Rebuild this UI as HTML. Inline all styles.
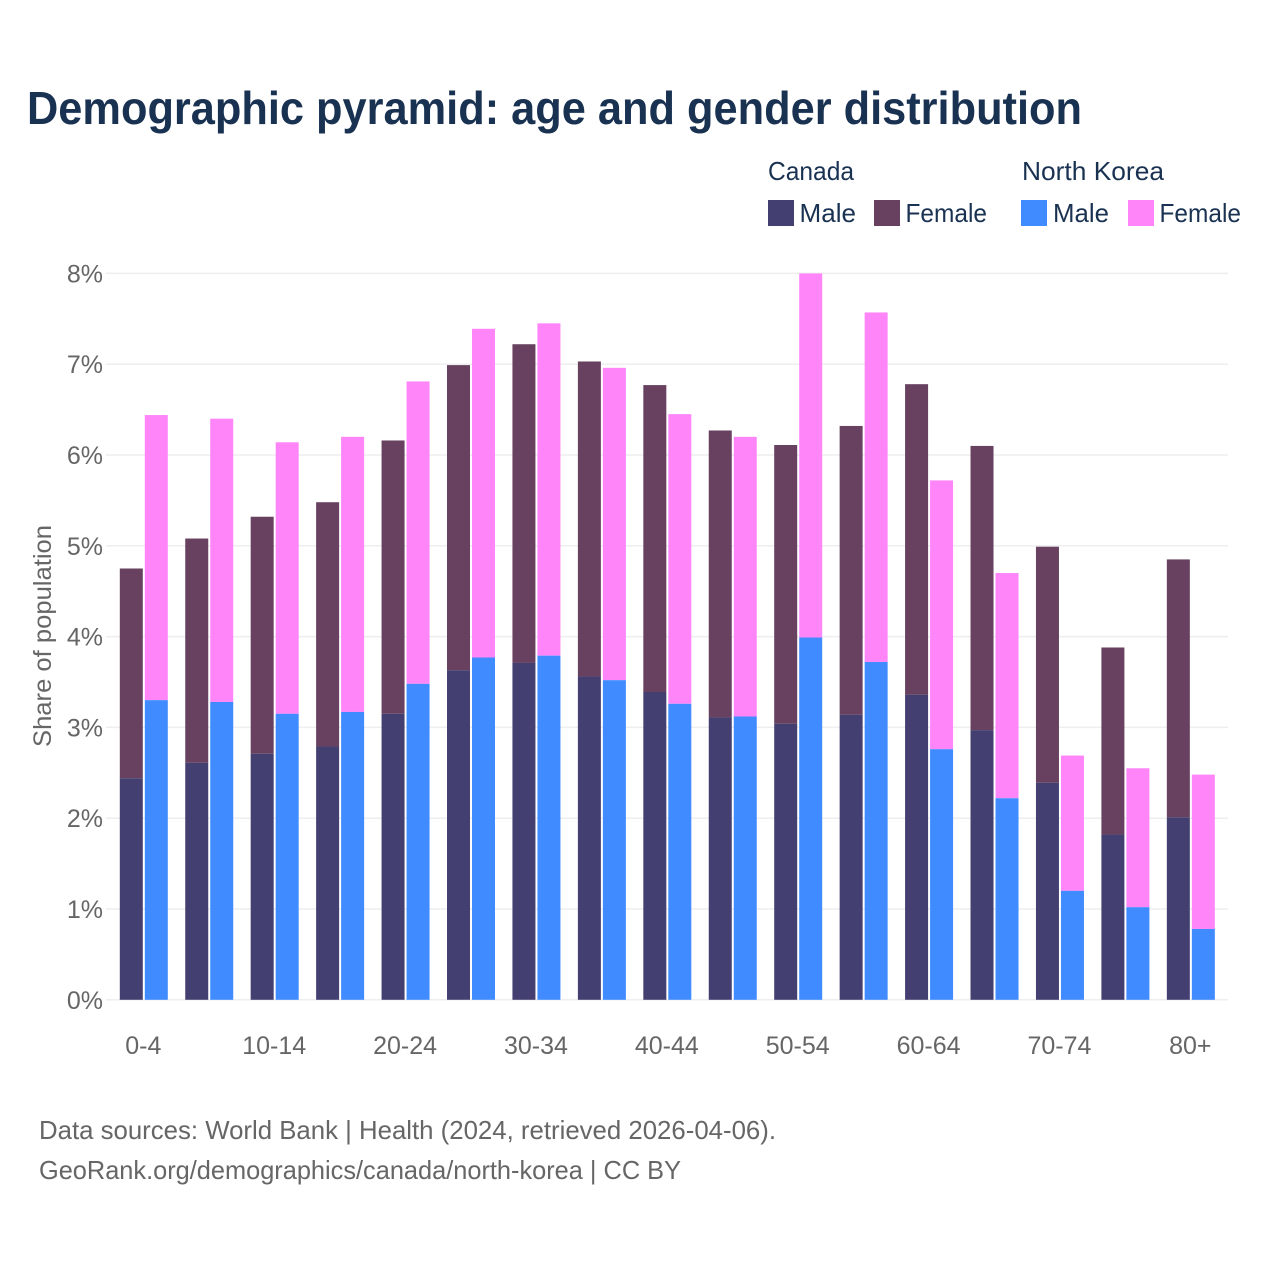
<!DOCTYPE html>
<html lang="en">
<head>
<meta charset="utf-8">
<title>Demographic pyramid</title>
<style>
html,body{margin:0;padding:0;background:#fff;}
svg{display:block;}
text{font-family:"Liberation Sans",sans-serif;}
</style>
</head>
<body>
<svg id="chart" width="1280" height="1280" viewBox="0 0 1280 1280" xmlns="http://www.w3.org/2000/svg">
  <rect width="1280" height="1280" fill="#ffffff"/>
  <text x="27" y="124" font-size="46" font-weight="700" fill="#1a3252" textLength="1055" lengthAdjust="spacingAndGlyphs">Demographic pyramid: age and gender distribution</text>

  <g font-size="26" fill="#1a3252">
    <text x="768" y="180" textLength="86" lengthAdjust="spacingAndGlyphs">Canada</text>
    <text x="1022" y="180" textLength="142" lengthAdjust="spacingAndGlyphs">North Korea</text>
    <rect x="768" y="200" width="26" height="26" fill="#443f71"/>
    <text x="799.5" y="222" textLength="56.5" lengthAdjust="spacingAndGlyphs">Male</text>
    <rect x="874" y="200" width="26" height="26" fill="#67415f"/>
    <text x="905.5" y="222" textLength="81.5" lengthAdjust="spacingAndGlyphs">Female</text>
    <rect x="1021" y="200" width="26" height="26" fill="#3f8bff"/>
    <text x="1053" y="222" textLength="56" lengthAdjust="spacingAndGlyphs">Male</text>
    <rect x="1128" y="200" width="26" height="26" fill="#ff85f9"/>
    <text x="1159.5" y="222" textLength="81.5" lengthAdjust="spacingAndGlyphs">Female</text>
  </g>

  <g id="grid"></g>
  <g id="y-axis"></g>
  <g id="bars"></g>
  <g id="x-axis"></g>

  <text transform="translate(51,636) rotate(-90)" text-anchor="middle" font-size="25" fill="#666666" textLength="222" lengthAdjust="spacingAndGlyphs">Share of population</text>

  <text x="39" y="1139" font-size="26" fill="#666666" textLength="737" lengthAdjust="spacingAndGlyphs">Data sources: World Bank | Health (2024, retrieved 2026-04-06).</text>
  <text x="39" y="1179" font-size="26" fill="#666666" textLength="642" lengthAdjust="spacingAndGlyphs">GeoRank.org/demographics/canada/north-korea | CC BY</text>
</svg>
<script>
const categories = ["0-4","5-9","10-14","15-19","20-24","25-29","30-34","35-39","40-44","45-49","50-54","55-59","60-64","65-69","70-74","75-79","80+"];
const xTickLabels = ["0-4","10-14","20-24","30-34","40-44","50-54","60-64","70-74","80+"];
const yTicks = [0,1,2,3,4,5,6,7,8];
const canadaMale = [2.44,2.61,2.71,2.79,3.15,3.63,3.71,3.56,3.39,3.11,3.04,3.14,3.36,2.97,2.39,1.82,2.01];
const canadaFemale = [2.31,2.47,2.61,2.69,3.01,3.36,3.51,3.47,3.38,3.16,3.07,3.18,3.42,3.13,2.60,2.06,2.84];
const northKoreaMale = [3.30,3.28,3.15,3.17,3.48,3.77,3.79,3.52,3.26,3.12,3.99,3.72,2.76,2.22,1.20,1.02,0.78];
const northKoreaFemale = [3.14,3.12,2.99,3.03,3.33,3.62,3.66,3.44,3.19,3.08,4.01,3.85,2.96,2.48,1.49,1.53,1.70];

const SVG_NS = "http://www.w3.org/2000/svg";
const yScale = v => 999.8 - v * 90.8;
const xBand = i => 119.8 + i * 65.44;
const BAR_W = 23;
const NK_OFFSET = 25;

function make(tag, attrs, parent) {
  const el = document.createElementNS(SVG_NS, tag);
  for (const k in attrs) el.setAttribute(k, attrs[k]);
  parent.appendChild(el);
  return el;
}

const grid = document.getElementById("grid");
const yAxis = document.getElementById("y-axis");
const xAxis = document.getElementById("x-axis");
const bars = document.getElementById("bars");

yTicks.forEach(t => {
  const line = make("line", {x1:106, x2:1228, y1:yScale(t), y2:yScale(t), stroke:"#eeeeee", "stroke-width":1.5}, grid);
  
  
  const label = make("text", {x:103, y:yScale(t)+9, "text-anchor":"end", "font-size":25, fill:"#666666"}, yAxis);
  
  
  label.textContent = t + "%";
});

function drawStack(i, x, male, female, maleColor, femaleColor, country) {
  const maleTop = yScale(male);
  const totalTop = yScale(male + female);
  const femaleRect = make("rect", {x:x, y:totalTop, width:BAR_W, height:maleTop-totalTop, fill:femaleColor}, bars);
  
  
  femaleRect.setAttribute('data-series', country + "-" + categories[i]);
  const maleRect = make("rect", {x:x, y:maleTop, width:BAR_W, height:yScale(0)-maleTop, fill:maleColor}, bars);
  
  
  maleRect.setAttribute('data-series', country + "-" + categories[i]);
}

categories.forEach((c, i) => {
  drawStack(i, xBand(i), canadaMale[i], canadaFemale[i], "#443f71", "#67415f", "canada");
  drawStack(i, xBand(i)+NK_OFFSET, northKoreaMale[i], northKoreaFemale[i], "#3f8bff", "#ff85f9", "north-korea");
  if (xTickLabels.includes(c)) {
    const label = make("text", {x:xBand(i)+23.5, y:1054, "text-anchor":"middle", "font-size":25, fill:"#666666"}, xAxis);
    
    
    label.textContent = c;
  }
});
</script>
</body>
</html>
